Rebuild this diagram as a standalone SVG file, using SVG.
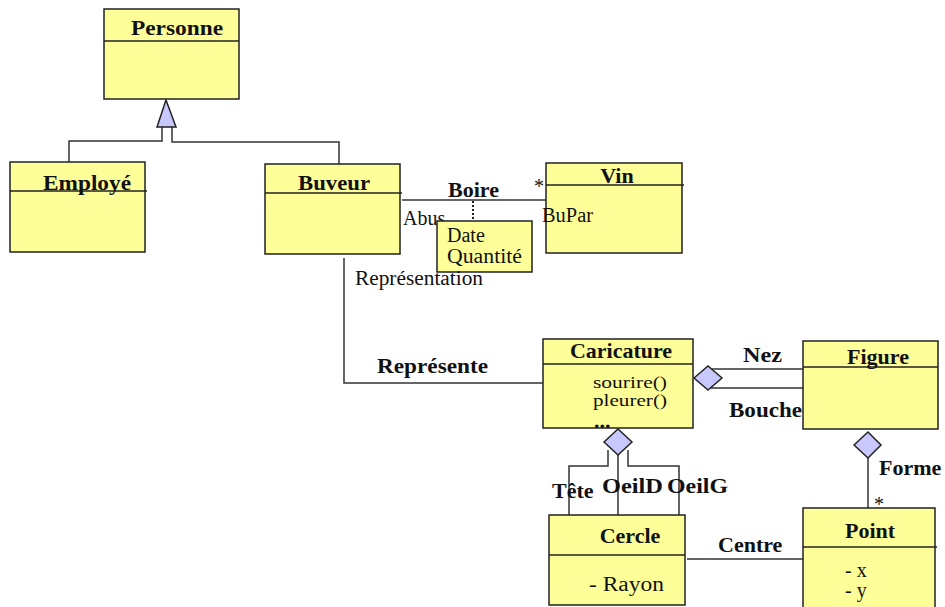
<svg xmlns="http://www.w3.org/2000/svg" width="945" height="607" viewBox="0 0 945 607">
  <style>
    .cls { fill: #FFFF99; stroke: #222; stroke-width: 1.5; }
    .sep { stroke: #222; stroke-width: 1.5; }
    .ln { fill: none; stroke: #333; stroke-width: 1.5; }
    .dot { fill: none; stroke: #222; stroke-width: 2; stroke-dasharray: 2 2; }
    .agg { fill: #C8C8FF; stroke: #222; stroke-width: 1.5; }
    .t { font-family: "Liberation Serif", "Times New Roman", serif; font-weight: bold; font-size: 22px; fill: #111; }
    .r { font-family: "Liberation Serif", "Times New Roman", serif; font-size: 20px; fill: #111; }
    .s { font-family: "Liberation Serif", "Times New Roman", serif; font-size: 20px; fill: #111; }
    .m { font-family: "Liberation Serif", "Times New Roman", serif; font-size: 17px; fill: #111; }
  </style>

  <!-- connectors -->
  <g id="connectors">
    <!-- generalization Employé / Buveur -> Personne -->
    <polyline class="ln" points="69,162 69,141 162,141 162,127"/>
    <polyline class="ln" points="339,164 339,142 172,142 172,127"/>
    <polygon class="agg" points="166,100 157,127 176,127"/>
    <!-- Boire association -->
    <line class="ln" x1="402" y1="200" x2="546" y2="200"/>
    <line class="dot" x1="473" y1="201" x2="473" y2="221"/>
    <!-- Représente -->
    <polyline class="ln" points="344,258 344,383 543,383"/>
    <!-- Nez / Bouche -->
    <line class="ln" x1="712" y1="369" x2="803" y2="369"/>
    <line class="ln" x1="711" y1="388" x2="803" y2="388"/>
    <polygon class="agg" points="694,378 708,366 722,378 708,390"/>
    <!-- Tête / OeilD / OeilG -->
    <polyline class="ln" points="608,450 608,466 569,466 569,515"/>
    <line class="ln" x1="618" y1="455" x2="618" y2="515"/>
    <polyline class="ln" points="628,450 628,466 679,466 679,515"/>
    <polygon class="agg" points="604,442 618,429 632,442 618,455"/>
    <!-- Forme -->
    <line class="ln" x1="868" y1="458" x2="868" y2="509"/>
    <polygon class="agg" points="854,445 868,432 881,445 868,458"/>
    <!-- Centre -->
    <line class="ln" x1="687" y1="559" x2="803" y2="559"/>
    <!-- role name partly hidden under the association class note -->
    <text class="s" x="403" y="225">Abus</text>
  </g>

  <g id="personne">
    <rect class="cls" x="104" y="9" width="135" height="90"/>
    <line class="sep" x1="104" y1="41" x2="239" y2="41"/>
    <text class="t" x="177" y="35" text-anchor="middle" textLength="92" lengthAdjust="spacingAndGlyphs">Personne</text>
  </g>

  <g id="employe">
    <rect class="cls" x="10" y="162" width="135" height="90"/>
    <line class="sep" x1="10" y1="191" x2="147" y2="191"/>
    <text class="t" x="87" y="190" text-anchor="middle" textLength="88" lengthAdjust="spacingAndGlyphs">Employé</text>
  </g>

  <g id="buveur">
    <rect class="cls" x="265" y="164" width="135" height="90"/>
    <line class="sep" x1="265" y1="193" x2="402" y2="193"/>
    <text class="t" x="334" y="190" text-anchor="middle" textLength="72" lengthAdjust="spacingAndGlyphs">Buveur</text>
  </g>

  <g id="vin">
    <rect class="cls" x="546" y="163" width="136" height="90"/>
    <line class="sep" x1="546" y1="185" x2="684" y2="185"/>
    <text class="t" x="617" y="183" text-anchor="middle">Vin</text>
  </g>

  <g id="boire-note">
    <rect class="cls" x="437" y="221" width="95" height="51"/>
    <text class="s" x="447" y="242">Date</text>
    <text class="s" x="447" y="263" textLength="75" lengthAdjust="spacingAndGlyphs">Quantité</text>
  </g>

  <g id="caricature">
    <rect class="cls" x="543" y="339" width="150" height="89"/>
    <line class="sep" x1="543" y1="364" x2="693" y2="364"/>
    <text class="t" x="621" y="358" text-anchor="middle">Caricature</text>
    <text class="m" x="593" y="388" textLength="74" lengthAdjust="spacingAndGlyphs">sourire()</text>
    <text class="m" x="593" y="406" textLength="74" lengthAdjust="spacingAndGlyphs">pleurer()</text>
    <text class="t" x="594" y="428">...</text>
  </g>

  <g id="figure">
    <rect class="cls" x="803" y="341" width="135" height="88"/>
    <line class="sep" x1="803" y1="367" x2="938" y2="367"/>
    <text class="t" x="878" y="364" text-anchor="middle">Figure</text>
  </g>

  <g id="cercle">
    <rect class="cls" x="549" y="515" width="136" height="90"/>
    <line class="sep" x1="549" y1="555" x2="685" y2="555"/>
    <text class="t" x="630" y="543" text-anchor="middle">Cercle</text>
    <text class="r" x="589" y="591" textLength="75" lengthAdjust="spacingAndGlyphs">- Rayon</text>
  </g>

  <g id="point">
    <rect class="cls" x="803" y="508" width="132" height="110"/>
    <line class="sep" x1="803" y1="547" x2="937" y2="547"/>
    <text class="t" x="870" y="538" text-anchor="middle">Point</text>
    <text class="r" x="845" y="577">- x</text>
    <text class="r" x="845" y="597">- y</text>
  </g>

  <!-- association and role labels -->
  <g id="connector-labels">
    <text class="t" x="448" y="197">Boire</text>
    <text class="r" x="534" y="193">*</text>
    <text class="s" x="542" y="222" textLength="51" lengthAdjust="spacingAndGlyphs">BuPar</text>
    <text class="s" x="355" y="285" textLength="128" lengthAdjust="spacingAndGlyphs">Représentation</text>
    <text class="t" x="377" y="373" textLength="111" lengthAdjust="spacingAndGlyphs">Représente</text>
    <text class="t" x="743" y="362" textLength="39" lengthAdjust="spacingAndGlyphs">Nez</text>
    <text class="t" x="729" y="417" textLength="73" lengthAdjust="spacingAndGlyphs">Bouche</text>
    <text class="t" x="552" y="498">Tête</text>
    <text class="t" x="602" y="493" textLength="61" lengthAdjust="spacingAndGlyphs">OeilD</text>
    <text class="t" x="667" y="493" textLength="61" lengthAdjust="spacingAndGlyphs">OeilG</text>
    <text class="t" x="879" y="475">Forme</text>
    <text class="r" x="874" y="511">*</text>
    <text class="t" x="718" y="552">Centre</text>
  </g>
</svg>
